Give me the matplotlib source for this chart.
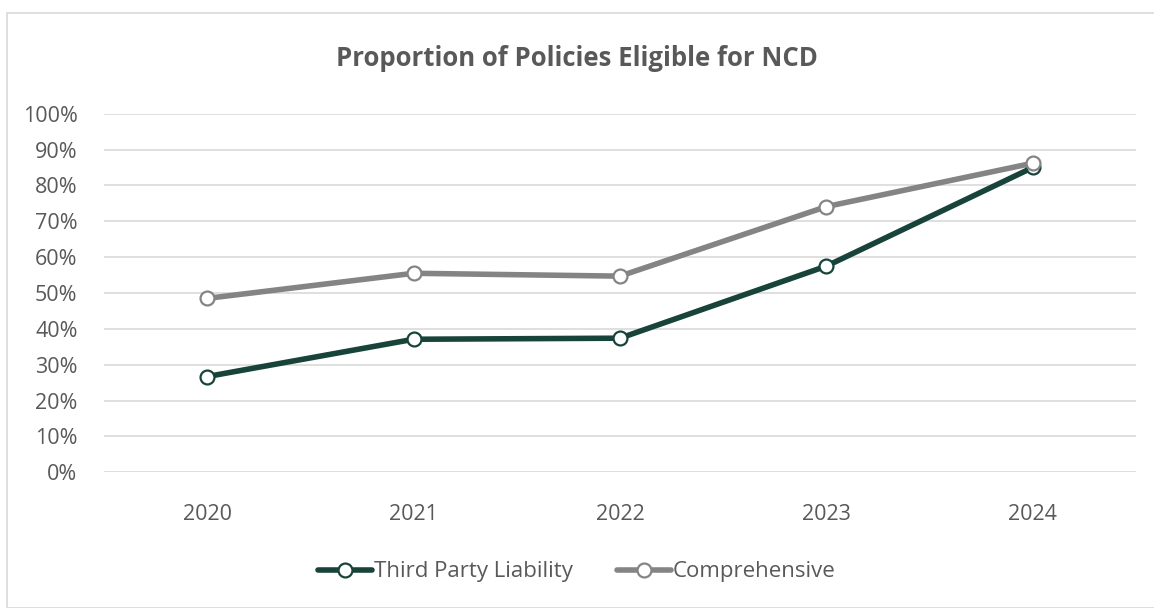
import matplotlib.pyplot as plt
from matplotlib.patches import Rectangle
from matplotlib.ticker import PercentFormatter

years = ["2020", "2021", "2022", "2023", "2024"]
third_party = [26.7, 37.1, 37.4, 57.5, 85.0]
comprehensive = [48.5, 55.5, 54.7, 74.1, 86.2]

TPL_COLOR = "#17433A"
COMP_COLOR = "#848484"
TEXT_COLOR = "#595959"

plt.rcParams["font.family"] = ["Open Sans", "DejaVu Sans"]

fig = plt.figure(figsize=(11.54, 6.08), dpi=100)
W, H = 1154, 608

# chart frame
fig.patches.append(Rectangle((7 / W, 0), 1.2, 1 - 13 / H, transform=fig.transFigure,
                             fill=False, edgecolor="#D9D9D9", linewidth=1.2))

ax = fig.add_axes([104 / W, 1 - 472.3 / H, 1032 / W, (472.3 - 113.7) / H])

x = range(len(years))
ax.plot(x, third_party, color=TPL_COLOR, linewidth=4, marker="o", markersize=10,
        markerfacecolor="white", markeredgecolor=TPL_COLOR, markeredgewidth=1.6,
        label="Third Party Liability", solid_capstyle="round", zorder=3)
ax.plot(x, comprehensive, color=COMP_COLOR, linewidth=4, marker="o", markersize=10,
        markerfacecolor="white", markeredgecolor=COMP_COLOR, markeredgewidth=1.6,
        label="Comprehensive", solid_capstyle="round", zorder=3)

ax.set_xlim(-0.5, len(years) - 0.5)
ax.set_ylim(0, 100)
ax.set_yticks(range(0, 101, 10))
ax.yaxis.set_major_formatter(PercentFormatter(decimals=0))
ax.set_xticks(list(x))
ax.set_xticklabels(years)
ax.grid(axis="y", color="#D9D9D9", linewidth=1.2)
ax.set_axisbelow(True)
for s in ax.spines.values():
    s.set_visible(False)
ax.tick_params(length=0, labelsize=15.5, colors=TEXT_COLOR)
ax.tick_params(axis="y", pad=19)
ax.tick_params(axis="x", pad=23)

fig.text(0.5, 1 - 58 / H, "Proportion of Policies Eligible for NCD", ha="center", va="center",
         fontsize=18.5, fontweight="bold", color=TEXT_COLOR)

leg = fig.legend(loc="center", bbox_to_anchor=(0.5, 1 - 572 / H), ncol=2, frameon=False,
                 fontsize=16, handlelength=2.4, handletextpad=0.1, columnspacing=2.0)
for t in leg.get_texts():
    t.set_color(TEXT_COLOR)

fig.savefig("out.png", dpi=100)
